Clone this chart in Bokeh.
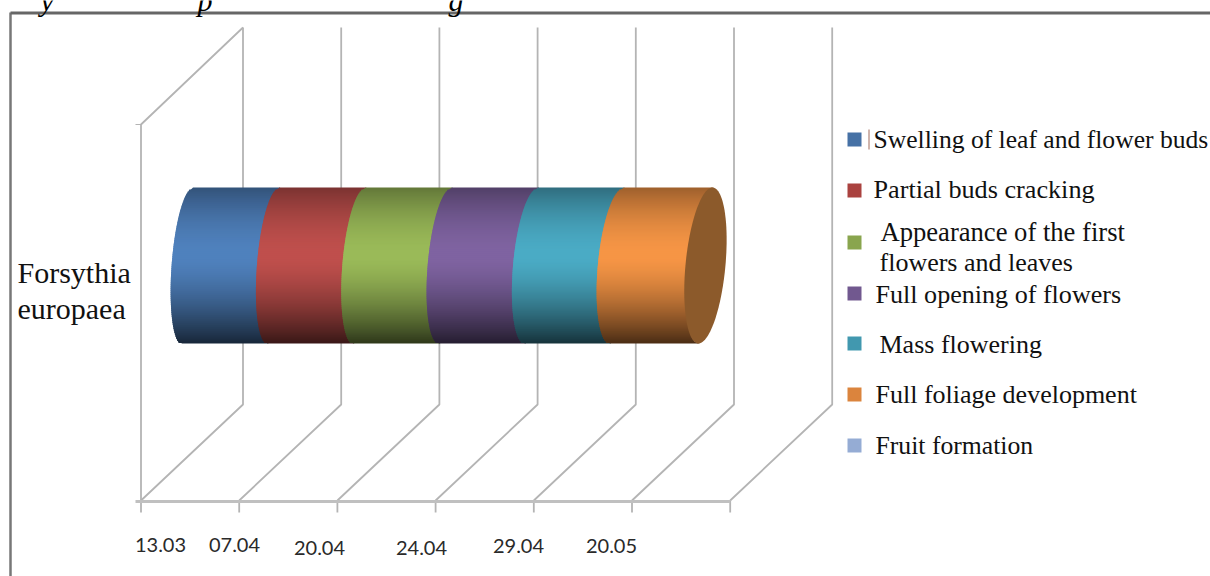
import math
from bokeh.core.properties import value
from bokeh.embed import file_html
from bokeh.models import Range1d
from bokeh.plotting import figure
from bokeh.resources import INLINE

# ---- data ----
category_lines = ["Forsythia", "europaea"]
date_labels = ["13.03", "07.04", "20.04", "24.04", "29.04", "20.05"]
stages = ["Swelling of leaf and flower buds", "Partial buds cracking",
          "Appearance of the first flowers and leaves", "Full opening of flowers",
          "Mass flowering", "Full foliage development", "Fruit formation"]
stage_lengths = [0.876, 0.876, 0.876, 0.876, 0.87, 0.9, 0.0]
bar_start = 0.474
tick_positions = [0, 1, 2, 3, 4, 5, 6]
stage_colors = [(80, 130, 190), (192, 80, 77), (155, 187, 89), (128, 100, 162),
                (75, 172, 198), (247, 150, 70), (149, 172, 212)]

# ---- layout (reference pixels) ----
W, H = 1210, 576
PX0, PXU = 140.5, 98.2
def X(px):
    return (px - PX0) / PXU

p = figure(width=W, height=H, output_backend="svg", toolbar_location=None,
           x_range=Range1d(X(0), X(W)), y_range=Range1d(H, 0),
           min_border=0, outline_line_color=None, background_fill_color="white")
p.axis.visible = False
p.grid.visible = False

GRID = "#b4b4b4"
front_y, back_y, top_y = 500, 404, 27
dx = 102 / PXU
wall_top_front = 124

# outer frame
p.line([X(10), X(10)], [12, H], line_color="#777777", line_width=2.5)
p.line([X(10), X(W)], [12.5, 12.5], line_color="#666666", line_width=3)

# 3-D walls and floor
for t in tick_positions:
    p.line([t, t + dx, t + dx], [front_y, back_y, top_y], line_color=GRID, line_width=1.8)
    p.line([t, t], [front_y, 512], line_color=GRID, line_width=1.8)
p.line([0, 0, dx], [front_y, wall_top_front, top_y], line_color=GRID, line_width=1.8)
p.line([X(135), tick_positions[-1]], [front_y + 1, front_y + 1], line_color="#c0c0c0", line_width=3)
p.line([X(135), 0], [wall_top_front, wall_top_front], line_color=GRID, line_width=1.2)

# cylinder
cy, ry = 265, 78
N = 78
total = sum(stage_lengths)
def shade(t):
    # t = +1 at top, -1 at bottom; brightest just above the middle
    c = 0.12
    if t >= c:
        u = (t - c) / (1 - c)
        return 1 - 0.36 * u ** 1.8
    u = (c - t) / (1 + c)
    return 1 - 0.70 * u ** 1.5
def edge(x, t):
    frac = (x - bar_start) / total
    a = (16 + 4 * frac) / PXU
    s = (5.5 + 1.5 * frac) / PXU
    return x + s * t - a * math.sqrt(max(0, 1 - t * t))

pos = bar_start
for length, col in zip(stage_lengths, stage_colors):
    if length == 0:
        continue
    xs, ys, fills = [], [], []
    for k in range(N):
        t1 = 1 - 2 * k / N
        t2 = 1 - 2 * (k + 1) / N
        y1, y2 = cy - ry * t1, cy - ry * t2
        over = 1.5 if k < N - 1 else 0
        xs.append([edge(pos, t1), edge(pos + length + 0.01, t1),
                   edge(pos + length + 0.01, t2), edge(pos, t2)])
        ys.append([y1, y1, y2 + over, y2 + over])
        f = shade((t1 + t2) / 2)
        fills.append("#%02x%02x%02x" % tuple(int(c * f) for c in col))
    p.patches(xs, ys, fill_color=fills, line_color=None)
    pos += length

# end cap
ax, sx = 20 / PXU, 7 / PXU
th = [2 * math.pi * i / 120 for i in range(121)]
p.patch([pos + sx * math.sin(a) + ax * math.cos(a) for a in th],
        [cy - ry * math.sin(a) for a in th], fill_color="#8c5a2b", line_color=None)

# texts
serif = value("Liberation Serif")
sans = value("Lato")
p.text([X(40), X(197), X(448)], [0, 0, 0], text=["y", "p", "g"], text_font=serif,
       text_font_size="30px", text_font_style="italic", text_color="#000000",
       text_baseline="alphabetic")
p.text([X(17)], [272], text=[category_lines[0]], text_font=serif, text_font_size="30px",
       text_baseline="middle", text_color="#111111")
p.text([X(17)], [308], text=[category_lines[1]], text_font=serif, text_font_size="30px",
       text_baseline="middle", text_color="#111111")

label_x = [160, 234, 319, 421, 518, 611]
label_y = [544, 544, 547, 547, 545, 545]
p.text([X(v) for v in label_x], label_y, text=date_labels, text_font=sans,
       text_font_size="20px", text_align="center", text_baseline="middle", text_color="#2a2a2a")

# legend
sq_y = [139, 190, 242, 293, 343, 394, 445]
p.rect([X(854)] * 7, sq_y, width=14 / PXU, height=14, fill_color=[
    "#%02x%02x%02x" % c for c in [(70, 113, 165), (170, 66, 63), (137, 165, 78),
                                  (113, 88, 143), (65, 152, 175), (219, 132, 61), (149, 172, 212)]],
    line_color=None)
leg_x = [873, 873, 880, 879, 875, 879, 875, 875]
leg_y = [139, 188.5, 231.5, 261.5, 293.5, 343.5, 393.5, 445]
leg_size = [25.6, 26.2, 26.6, 26.0, 26.1, 26.0, 26.0, 25.7]
leg_text = [stages[0], stages[1], "Appearance of the first", "flowers and leaves",
            stages[3], stages[4], stages[5], stages[6]]
for lx, ly, ls, lt in zip(leg_x, leg_y, leg_size, leg_text):
    p.text([X(lx)], [ly], text=[lt], text_font=serif, text_font_size=f"{ls}px",
           text_baseline="middle", text_color="#111111")
p.line([X(868.5), X(868.5)], [129, 149], line_color="#a06a5a", line_width=1)

open("out.html", "w").write(file_html(p, INLINE))
